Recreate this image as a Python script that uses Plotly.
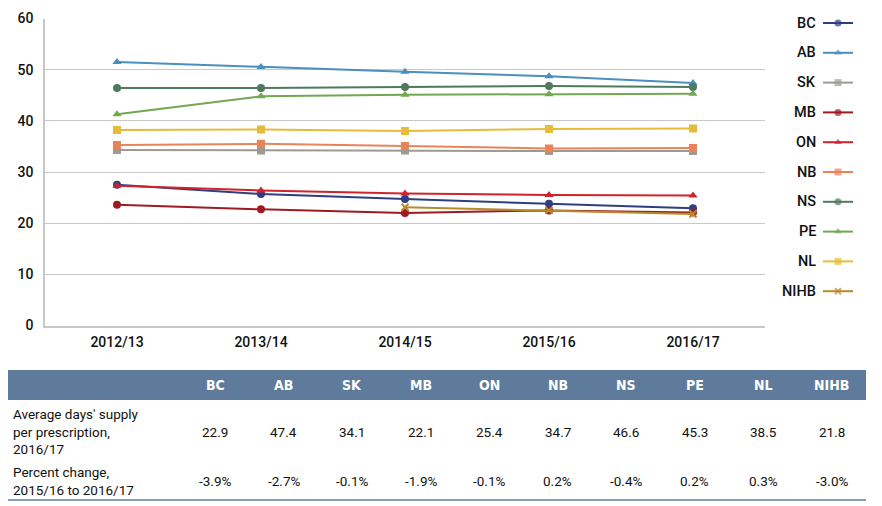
import plotly.graph_objects as go

W, H = 882, 506
OFFX = 8  # page body margin offset compensation
OFFY = 5

years = ["2012/13", "2013/14", "2014/15", "2015/16", "2016/17"]
series_names = ["BC", "AB", "SK", "MB", "ON", "NB", "NS", "PE", "NL", "NIHB"]

bc = [27.5, 25.7, 24.7, 23.8, 22.9]
ab = [51.5, 50.5, 49.6, 48.7, 47.4]
sk = [34.3, 34.2, 34.2, 34.1, 34.1]
mb = [23.6, 22.7, 22.0, 22.5, 22.1]
on = [27.3, 26.4, 25.8, 25.5, 25.4]
nb = [35.3, 35.5, 35.1, 34.6, 34.7]
ns = [46.4, 46.4, 46.6, 46.8, 46.6]
pe = [41.3, 44.8, 45.1, 45.2, 45.3]
nl = [38.2, 38.3, 38.0, 38.4, 38.5]
nihb = [None, None, 23.1, 22.5, 21.8]

avg_days_2016 = ["22.9", "47.4", "34.1", "22.1", "25.4", "34.7", "46.6", "45.3", "38.5", "21.8"]
pct_change = ["-3.9%", "-2.7%", "-0.1%", "-1.9%", "-0.1%", "0.2%", "-0.4%", "0.2%", "0.3%", "-3.0%"]
row_labels = ["Average days' supply<br>per prescription,<br>2016/17",
              "Percent change,<br>2015/16 to 2016/17"]

series_values = [bc, ab, sk, mb, on, nb, ns, pe, nl, nihb]
colors = ["#2f3e80", "#4a8fbd", "#9b9b94", "#9e1b22", "#d0232b",
          "#e8835a", "#4f7a5f", "#72a84f", "#e6bd3b", "#b98a2c"]
symbols = ["circle", "triangle-up", "square", "circle", "triangle-up",
           "square", "circle", "triangle-up", "square", "x-thin"]

def xp(px):
    return (px - OFFX) / W

def yp(py):
    return 1 - (py - OFFY) / H

FONT = "Roboto"
TXT = "#111111"
fig = go.Figure()

for name, vals, c, s in zip(series_names, series_values, colors, symbols):
    fig.add_trace(go.Scatter(
        x=years, y=vals, name=name, mode="lines+markers",
        line=dict(color=c, width=2),
        marker=dict(symbol=s, size=8 if s != "x-thin" else 7, color=c,
                    line=dict(color=c, width=2 if s == "x-thin" else 0)),
        showlegend=False, xaxis="x", yaxis="y", connectgaps=False,
    ))

# custom legend (text left, sample right)
for i, (name, c, s) in enumerate(zip(series_names, colors, symbols)):
    fig.add_trace(go.Scatter(
        x=[0, 0.5, 1], y=[i, i, i], mode="lines+markers",
        line=dict(color=c, width=2),
        marker=dict(symbol=s, size=[0, 7 if s != "x-thin" else 6, 0], color=c,
                    line=dict(color=c, width=2 if s == "x-thin" else 0)),
        showlegend=False, xaxis="x2", yaxis="y2", hoverinfo="skip",
    ))

leg_top, leg_step = 20, 29.8
annotations = []
for i, name in enumerate(series_names):
    annotations.append(dict(
        x=xp(818), y=yp(leg_top + i * leg_step), xref="paper", yref="paper",
        text=name, showarrow=False, xanchor="right", yanchor="middle",
        font=dict(family=FONT, size=14.5, color=TXT, weight=500),
    ))

# table
col_centers = [215 + i * 68.5 for i in range(10)]
shapes = [
    dict(type="rect", xref="paper", yref="paper", x0=xp(8), x1=xp(866),
         y0=yp(397), y1=yp(367), fillcolor="#5f7b9c", line=dict(width=0), layer="below"),
    dict(type="line", xref="paper", yref="paper", x0=xp(8), x1=xp(866),
         y0=yp(497), y1=yp(497), line=dict(color="#5f7b9c", width=1.5)),
]
for i, name in enumerate(series_names):
    annotations.append(dict(
        x=xp(col_centers[i]), y=yp(382), xref="paper", yref="paper",
        text="<b>" + name + "</b>", showarrow=False, xanchor="center", yanchor="middle",
        font=dict(family="DejaVu Sans Condensed, Roboto, sans-serif", size=14, color="white"),
    ))
    annotations.append(dict(
        x=xp(col_centers[i]), y=yp(429), xref="paper", yref="paper",
        text=avg_days_2016[i], showarrow=False, xanchor="center", yanchor="middle",
        font=dict(family=FONT, size=13.5, color=TXT),
    ))
    annotations.append(dict(
        x=xp(col_centers[i]), y=yp(478), xref="paper", yref="paper",
        text=pct_change[i], showarrow=False, xanchor="center", yanchor="middle",
        font=dict(family=FONT, size=13.5, color=TXT),
    ))
for lbl, ycen in zip(row_labels, [428, 478]):
    annotations.append(dict(
        x=xp(11), y=yp(ycen), xref="paper", yref="paper",
        text=lbl, showarrow=False, xanchor="left", yanchor="middle", align="left",
        font=dict(family=FONT, size=13.5, color=TXT),
    ))

leg_dom_top_px = OFFY
leg_dom_bot_px = leg_top + 9.5 * leg_step

fig.update_layout(
    width=W, height=H,
    margin=dict(l=0, r=0, t=0, b=0, pad=0, autoexpand=False),
    paper_bgcolor="white", plot_bgcolor="white",
    xaxis=dict(domain=[xp(45), xp(765)], type="category", range=[-0.5, 4.5],
               automargin=False,
               showgrid=False, showline=True, linecolor="#c8c8c8", linewidth=1.5,
               ticks="", ticklabelstandoff=3,
               tickfont=dict(family=FONT, size=14, color=TXT, weight=500),
               fixedrange=True),
    yaxis=dict(domain=[yp(322.5), yp(15.5)], range=[0, 60], dtick=10,
               automargin=False,
               showgrid=True, gridcolor="#c8c8c8", gridwidth=1.2,
               showline=True, linecolor="#c8c8c8", linewidth=1.5,
               zeroline=False, ticks="", ticklabelstandoff=7,
               tickfont=dict(family=FONT, size=14, color=TXT, weight=500),
               fixedrange=True),
    xaxis2=dict(domain=[xp(823), xp(853)], range=[0, 1], visible=False,
                anchor="y2", fixedrange=True, automargin=False),
    yaxis2=dict(domain=[yp(leg_dom_bot_px), yp(leg_dom_top_px)],
                range=[9.5, (leg_dom_top_px - leg_top) / leg_step],
                visible=False, anchor="x2", fixedrange=True, automargin=False),
    annotations=annotations,
    shapes=shapes,
    showlegend=False,
)

fig.write_html("out.html")
